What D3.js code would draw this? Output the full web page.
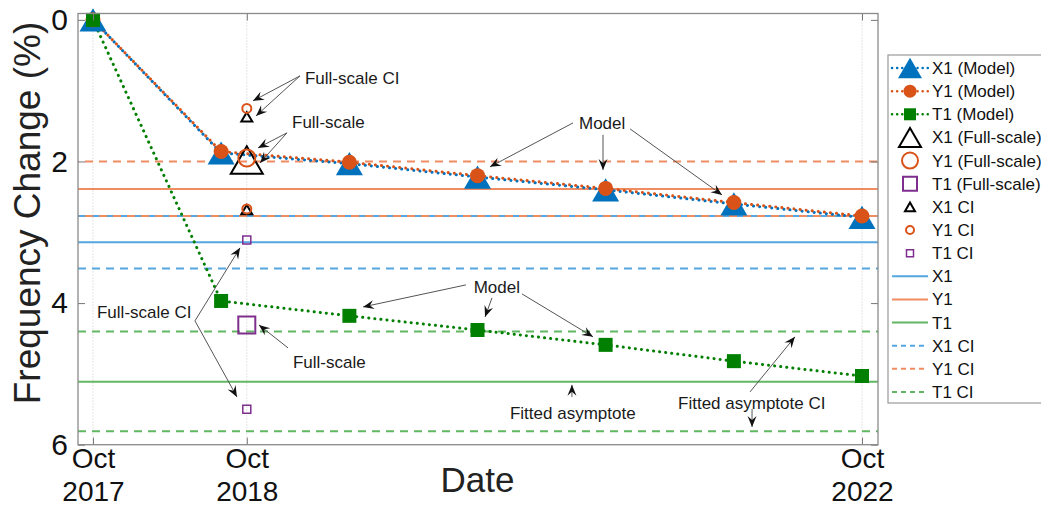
<!DOCTYPE html>
<html>
<head>
<meta charset="utf-8">
<script src="https://cdn.jsdelivr.net/npm/d3@7"></script>
<style>
  body { margin: 0; background: #fff; }
  svg { display: block; font-family: "Liberation Sans", Arial, sans-serif; }
</style>
</head>
<body>
<svg id="chart" width="1041" height="509"></svg>
<script>
// years since Oct 2017
const modelTimes = [0, 0.833, 1.667, 2.5, 3.333, 4.167, 5.0];
const x1Model = [0, 1.88, 2.03, 2.22, 2.40, 2.60, 2.79];
const y1Model = [0, 1.86, 2.01, 2.20, 2.38, 2.58, 2.77];
const t1Model = [0, 3.97, 4.18, 4.38, 4.59, 4.82, 5.03];

const fullScaleTime = 1.0;
const x1Full = 1.98;
const y1Full = 1.95;
const t1Full = 4.31;
const x1FullCI = [1.37, 2.68];
const y1FullCI = [1.25, 2.67];
const t1FullCI = [3.11, 5.50];

const x1Asym = 3.14;
const y1Asym = 2.39;
const t1Asym = 5.11;
const x1AsymCI = [2.77, 3.51];
const y1AsymCI = [2.00, 2.77];
const t1AsymCI = [4.40, 5.81];

const xTickValues = [0, 1, 5];
const xTickLabels = [["Oct", "2017"], ["Oct", "2018"], ["Oct", "2022"]];
const yTickValues = [0, 2, 4, 6];

const legendNames = [
  "X1 (Model)", "Y1 (Model)", "T1 (Model)",
  "X1 (Full-scale)", "Y1 (Full-scale)", "T1 (Full-scale)",
  "X1 CI", "Y1 CI", "T1 CI",
  "X1", "Y1", "T1",
  "X1 CI", "Y1 CI", "T1 CI",
];

const blue = "#0072BD", orange = "#D95319", green = "#007F00", purple = "#7E2F8E";
const lBlue = "#55A6E0", lOrange = "#F08C62", lGreen = "#62B862";

const width = 1041;
const height = 509;
const margin = { top: 13.5, right: 163, bottom: 64.3, left: 78 };

const x = d3.scaleLinear()
  .domain([-0.0975, 5.104])
  .range([margin.left, width - margin.right]);
const y = d3.scaleLinear()
  .domain([-0.09, 6])
  .range([margin.top, height - margin.bottom]);

const svg = d3.select("#chart");

// marker shapes (bounding-box centred like matlab)
const triPath = (w) => {
  const h = w * 0.86;
  return `M0,${-h / 2}L${w / 2},${h / 2}L${-w / 2},${h / 2}Z`;
};
const sqPath = (s) => `M${-s / 2},${-s / 2}h${s}v${s}h${-s}Z`;

const drawMarker = (g, kind, cx, cy, opt) => {
  if (kind === "tri") {
    g.append("path").attr("d", triPath(opt.size))
      .attr("transform", `translate(${cx},${cy})`)
      .attr("fill", opt.fill || "none").attr("stroke", opt.stroke || "none")
      .attr("stroke-width", opt.sw || 0).attr("stroke-linejoin", "miter");
  } else if (kind === "circ") {
    g.append("circle").attr("cx", cx).attr("cy", cy).attr("r", opt.size / 2)
      .attr("fill", opt.fill || "none").attr("stroke", opt.stroke || "none")
      .attr("stroke-width", opt.sw || 0);
  } else {
    g.append("path").attr("d", sqPath(opt.size))
      .attr("transform", `translate(${cx},${cy})`)
      .attr("fill", opt.fill || "none").attr("stroke", opt.stroke || "none")
      .attr("stroke-width", opt.sw || 0);
  }
};

// arrow head
svg.append("defs").append("marker")
  .attr("id", "head")
  .attr("viewBox", "-12 -6 14 12")
  .attr("refX", 0).attr("refY", 0)
  .attr("markerWidth", 14).attr("markerHeight", 12)
  .attr("markerUnits", "userSpaceOnUse")
  .attr("orient", "auto")
  .append("path")
  .attr("d", "M0,0L-11,-4.5L-7,0L-11,4.5Z")
  .attr("fill", "#111");

// vertical grid
svg.append("g").selectAll("line")
  .data(xTickValues)
  .join("line")
  .attr("x1", d => x(d)).attr("x2", d => x(d))
  .attr("y1", margin.top).attr("y2", height - margin.bottom)
  .attr("stroke", "#c8c8c8").attr("stroke-width", 1)
  .attr("stroke-dasharray", "1 2");

// asymptote lines
const hLines = [
  { v: x1AsymCI[0], c: lBlue, dash: "8 6", off: 0 },
  { v: x1AsymCI[1], c: lBlue, dash: "8 6", off: 0 },
  { v: y1AsymCI[0], c: lOrange, dash: "8 6", off: 7 },
  { v: y1AsymCI[1], c: lOrange, dash: "8 6", off: 7 },
  { v: t1AsymCI[0], c: lGreen, dash: "8 6", off: 0 },
  { v: t1AsymCI[1], c: lGreen, dash: "8 6", off: 0 },
  { v: x1Asym, c: lBlue, dash: null, off: 0 },
  { v: y1Asym, c: lOrange, dash: null, off: 0 },
  { v: t1Asym, c: lGreen, dash: null, off: 0 },
];
svg.append("g").selectAll("line")
  .data(hLines)
  .join("line")
  .attr("x1", margin.left).attr("x2", width - margin.right)
  .attr("y1", d => y(d.v)).attr("y2", d => y(d.v))
  .attr("stroke", d => d.c).attr("stroke-width", 2)
  .attr("stroke-dasharray", d => d.dash)
  .attr("stroke-dashoffset", d => d.off);

// model dotted lines
const line = d3.line().x(d => x(d[0])).y(d => y(d[1]));
const series = [
  { vals: x1Model, c: blue, off: 0 },
  { vals: y1Model, c: orange, off: 3 },
  { vals: t1Model, c: green, off: 0 },
];
svg.append("g").selectAll("path")
  .data(series)
  .join("path")
  .attr("d", d => line(modelTimes.map((t, i) => [t, d.vals[i]])))
  .attr("fill", "none").attr("stroke", d => d.c)
  .attr("stroke-width", 3).attr("stroke-linecap", "round")
  .attr("stroke-dasharray", "0.1 6").attr("stroke-dashoffset", d => d.off);

// model markers
const marks = svg.append("g");
modelTimes.forEach((t, i) => drawMarker(marks, "tri", x(t), y(x1Model[i]), { size: 27, fill: blue }));
modelTimes.forEach((t, i) => drawMarker(marks, "circ", x(t), y(y1Model[i]), { size: 15, fill: orange }));
modelTimes.forEach((t, i) => drawMarker(marks, "sq", x(t), y(t1Model[i]), { size: 14, fill: green }));

// full-scale markers and CIs
const fx = x(fullScaleTime);
drawMarker(marks, "tri", fx, y(x1Full), { size: 32, stroke: "#000", sw: 2 });
drawMarker(marks, "circ", fx, y(y1Full), { size: 17, stroke: orange, sw: 2 });
drawMarker(marks, "sq", fx, y(t1Full), { size: 17, stroke: purple, sw: 2 });
x1FullCI.forEach(v => drawMarker(marks, "tri", fx, y(v), { size: 11, stroke: "#000", sw: 2 }));
y1FullCI.forEach(v => drawMarker(marks, "circ", fx, y(v), { size: 9, stroke: orange, sw: 2 }));
t1FullCI.forEach(v => drawMarker(marks, "sq", fx, y(v), { size: 8, stroke: purple, sw: 1.5 }));

// annotations
const annoTexts = [
  { label: "Full-scale CI", t: 1.378, v: 0.819 },
  { label: "Full-scale", t: 1.294, v: 1.441 },
  { label: "Model", t: 3.160, v: 1.455 },
  { label: "Model", t: 2.475, v: 3.771 },
  { label: "Full-scale CI", t: 0.026, v: 4.124 },
  { label: "Full-scale", t: 1.300, v: 4.831 },
  { label: "Fitted asymptote", t: 2.711, v: 5.551 },
  { label: "Fitted asymptote CI", t: 3.804, v: 5.410 },
];
const annoArrows = [
  [1.346, 0.791, 1.040, 1.144],
  [1.346, 0.791, 1.060, 1.356],
  [1.261, 1.596, 1.073, 1.808],
  [1.261, 1.596, 1.086, 2.020],
  [3.121, 1.455, 2.581, 2.076],
  [3.316, 1.624, 3.316, 2.119],
  [3.492, 1.540, 4.090, 2.472],
  [2.425, 3.743, 1.756, 4.054],
  [2.594, 3.927, 2.549, 4.195],
  [2.789, 3.870, 3.251, 4.477],
  [0.663, 4.251, 0.956, 3.220],
  [0.663, 4.251, 0.936, 5.325],
  [1.268, 4.633, 1.079, 4.308],
  [3.114, 5.325, 3.114, 5.155],
  [4.272, 5.254, 4.564, 4.477],
  [4.285, 5.494, 4.285, 5.749],
];
const anno = svg.append("g");
anno.selectAll("line")
  .data(annoArrows)
  .join("line")
  .attr("x1", d => x(d[0])).attr("y1", d => y(d[1]))
  .attr("x2", d => x(d[2])).attr("y2", d => y(d[3]))
  .attr("stroke", "#555").attr("stroke-width", 1)
  .attr("marker-end", "url(#head)");
anno.selectAll("text")
  .data(annoTexts)
  .join("text")
  .attr("x", d => x(d.t)).attr("y", d => y(d.v))
  .attr("dy", "0.35em")
  .attr("font-size", 17).attr("fill", "#1a1a1a")
  .text(d => d.label);

// axes
const yAxis = (g) => g
  .call(d3.axisLeft(y).tickValues(yTickValues).tickSize(-7).tickPadding(10).tickFormat(d3.format("d")))
  .call(g => g.select(".domain").remove())
  .call(g => g.selectAll(".tick line").attr("stroke", "#777"))
  .call(g => g.selectAll(".tick text").attr("font-size", 30).attr("fill", "#111")
    .attr("font-family", "Liberation Sans, Arial, sans-serif"));
svg.append("g").attr("transform", `translate(${margin.left},0)`).call(yAxis);

svg.append("g").attr("transform", `translate(${width - margin.right},0)`)
  .call(d3.axisRight(y).tickValues(yTickValues).tickSize(-7).tickFormat(""))
  .call(g => g.select(".domain").remove())
  .call(g => g.selectAll(".tick line").attr("stroke", "#777"));

const xAxisG = svg.append("g").attr("transform", `translate(0,${height - margin.bottom})`)
  .call(d3.axisBottom(x).tickValues(xTickValues).tickSize(-7).tickFormat(""))
  .call(g => g.select(".domain").remove())
  .call(g => g.selectAll(".tick line").attr("stroke", "#777"));
xAxisG.selectAll(".tick").each(function(d, i) {
  const t = d3.select(this).append("text")
    .attr("fill", "#111").attr("font-size", 28)
    .attr("font-family", "Liberation Sans, Arial, sans-serif")
    .attr("text-anchor", "middle");
  t.append("tspan").attr("x", 0).attr("y", 23).text(xTickLabels[i][0]);
  t.append("tspan").attr("x", 0).attr("y", 56).text(xTickLabels[i][1]);
});

svg.append("g").attr("transform", `translate(0,${margin.top})`)
  .call(d3.axisTop(x).tickValues(xTickValues).tickSize(-7).tickFormat(""))
  .call(g => g.select(".domain").remove())
  .call(g => g.selectAll(".tick line").attr("stroke", "#777"));

// box
svg.append("rect")
  .attr("x", margin.left).attr("y", margin.top)
  .attr("width", width - margin.right - margin.left)
  .attr("height", height - margin.bottom - margin.top)
  .attr("fill", "none").attr("stroke", "#8a8a8a").attr("stroke-width", 1.3);

// axis titles
svg.append("text")
  .attr("x", x(2.5)).attr("y", 492)
  .attr("text-anchor", "middle").attr("font-size", 35).attr("fill", "#222")
  .text("Date");
svg.append("text")
  .attr("transform", `translate(40,${213}) rotate(-90)`)
  .attr("text-anchor", "middle").attr("font-size", 37).attr("fill", "#222")
  .text("Frequency Change (%)");

// legend
const legend = svg.append("g");
legend.append("rect")
  .attr("x", 888).attr("y", 55).attr("width", 170).attr("height", 348)
  .attr("fill", "#fff").attr("stroke", "#999").attr("stroke-width", 1.2);

const legendStyle = [
  { line: blue, dash: "0.1 5", mk: "tri", mo: { size: 24, fill: blue } },
  { line: orange, dash: "0.1 5", mk: "circ", mo: { size: 13, fill: orange } },
  { line: green, dash: "0.1 5", mk: "sq", mo: { size: 12, fill: green } },
  { mk: "tri", mo: { size: 22, stroke: "#000", sw: 2 } },
  { mk: "circ", mo: { size: 16, stroke: orange, sw: 2 } },
  { mk: "sq", mo: { size: 14, stroke: purple, sw: 2 } },
  { mk: "tri", mo: { size: 10, stroke: "#000", sw: 2 } },
  { mk: "circ", mo: { size: 8, stroke: orange, sw: 2 } },
  { mk: "sq", mo: { size: 7, stroke: purple, sw: 1.5 } },
  { line: lBlue, dash: null },
  { line: lOrange, dash: null },
  { line: lGreen, dash: null },
  { line: lBlue, dash: "5 4" },
  { line: lOrange, dash: "5 4" },
  { line: lGreen, dash: "5 4" },
];
const legY = d3.scaleLinear().domain([0, legendNames.length - 1]).range([68, 392]);
legendNames.forEach((name, i) => {
  const st = legendStyle[i];
  const yy = legY(i);
  if (st.line) {
    legend.append("line")
      .attr("x1", 892).attr("x2", 928).attr("y1", yy).attr("y2", yy)
      .attr("stroke", st.line)
      .attr("stroke-width", st.dash === "0.1 5" ? 2.5 : 2)
      .attr("stroke-linecap", st.dash === "0.1 5" ? "round" : "butt")
      .attr("stroke-dasharray", st.dash);
  }
  if (st.mk) drawMarker(legend, st.mk, 910, yy, st.mo);
  legend.append("text")
    .attr("x", 932).attr("y", yy).attr("dy", "0.35em")
    .attr("font-size", 17).attr("fill", "#111")
    .text(name);
});
</script>
</body>
</html>
